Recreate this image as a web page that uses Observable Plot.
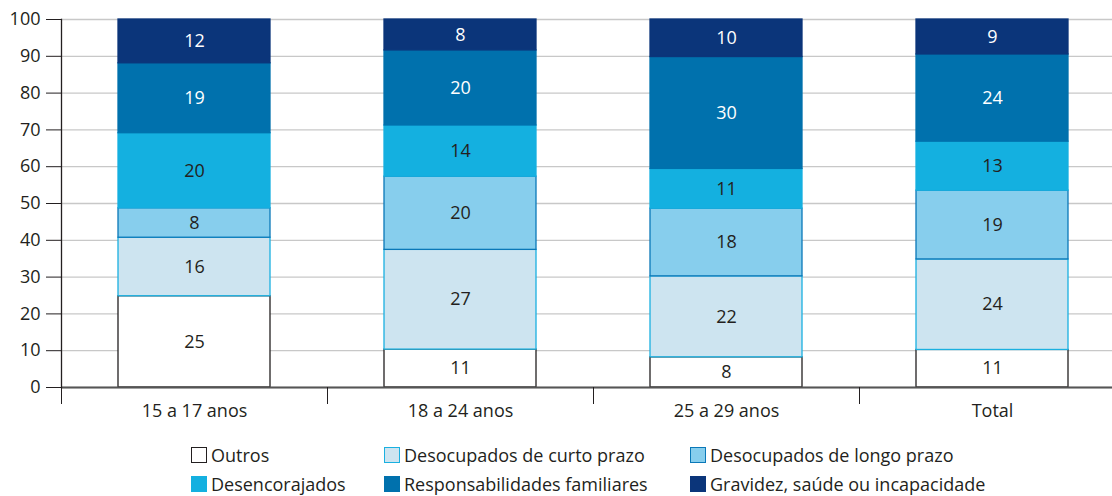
<!DOCTYPE html>
<html><head><meta charset="utf-8">
<script src="https://cdn.jsdelivr.net/npm/d3@7"></script>
<script src="https://cdn.jsdelivr.net/npm/@observablehq/plot@0.6"></script>
<style>
body{margin:0;background:#fff;font-family:"Open Sans",sans-serif;color:#231f20}
#wrap{position:relative;width:1112px;height:496px;overflow:hidden}
#legend{position:absolute;left:191px;top:445px;display:grid;grid-template-columns:193px 306px auto;row-gap:9px;font-size:18px;line-height:20px}
.item{display:flex;align-items:center;gap:4px;height:20px;white-space:nowrap}
.sw{width:16px;height:16px;box-sizing:border-box;border:1.3px solid;flex:none}
</style></head>
<body><div id="wrap"><div id="chart"></div><div id="legend"></div></div>
<script>
const categories = ["15 a 17 anos","18 a 24 anos","25 a 29 anos","Total"];
const series = ["Outros","Desocupados de curto prazo","Desocupados de longo prazo","Desencorajados","Responsabilidades familiares","Gravidez, saúde ou incapacidade"];
const yTicks = [0,10,20,30,40,50,60,70,80,90,100];

// estimated segment sizes per series (order of categories)
const valOutros   = [24.8, 10.3,  8.2, 10.2];
const valCurto    = [15.9, 27.1, 22.0, 24.6];
const valLongo    = [ 8.0, 19.9, 18.4, 18.7];
const valDesenc   = [20.4, 13.9, 10.8, 13.3];
const valResp     = [19.0, 20.4, 30.4, 23.7];
const valGravidez = [11.9,  8.4, 10.2,  9.5];

// printed labels
const lblOutros   = [25, 11,  8, 11];
const lblCurto    = [16, 27, 22, 24];
const lblLongo    = [ 8, 20, 18, 19];
const lblDesenc   = [20, 14, 11, 13];
const lblResp     = [19, 20, 30, 24];
const lblGravidez = [12,  8, 10,  9];

const fills   = ["#ffffff","#cde4f0","#87ceed","#14b0e0","#0071ad","#0b357a"];
const strokes = ["#231f20","#1ab0e0","#0a78b8","#14b0e0","#0071ad","#0b357a"];
const textColors = ["#231f20","#231f20","#231f20","#231f20","#ffffff","#ffffff"];

const values = [valOutros, valCurto, valLongo, valDesenc, valResp, valGravidez];
const labels = [lblOutros, lblCurto, lblLongo, lblDesenc, lblResp, lblGravidez];

const rows = series.flatMap((s, i) => categories.map((c, j) => ({
  category: c, series: s, value: values[i][j], label: labels[i][j],
  stroke: strokes[i], textColor: textColors[i]
})));

const chart = Plot.plot({
  width: 1112, height: 430,
  marginTop: 19, marginBottom: 43, marginLeft: 61, marginRight: 0,
  style: {fontFamily: "Open Sans, sans-serif", fontSize: "18px", color: "#231f20", background: "#fff"},
  x: {domain: categories, range: [61, 1125], paddingInner: 0.4286, paddingOuter: 0.2143, label: null},
  y: {domain: [0, 100], label: null},
  color: {domain: series, range: fills},
  marks: [
    Plot.gridY(yTicks, {stroke: "#c8c8c8", strokeOpacity: 1, strokeWidth: 1.3}),
    Plot.barY(rows, {x: "category", y: "value", z: "series", fill: "series", stroke: "stroke", strokeWidth: 1.3}),
    Plot.text(rows, Plot.stackY({x: "category", y: "value", z: "series", text: "label", fill: "textColor", fontSize: 18})),
    Plot.ruleY([0], {stroke: "#555", strokeWidth: 1.8}),
    Plot.axisY(yTicks, {tickSize: 15, tickPadding: 6, stroke: "#231f20", label: null, fontSize: 18}),
    Plot.frame({anchor: "left", stroke: "#231f20", strokeWidth: 1.3}),
    Plot.axisX({tickSize: 17, text: null, dx: -133, stroke: "#231f20", label: null}),
    Plot.axisX({tickSize: 0, tickPadding: 17, label: null, fontSize: 18})
  ]
});
document.getElementById("chart").appendChild(chart);

const legend = document.getElementById("legend");
series.forEach((s, i) => {
  const item = document.createElement("div");
  item.className = "item";
  const sw = document.createElement("span");
  sw.className = "sw";
  sw.style.background = fills[i];
  sw.style.borderColor = strokes[i];
  const t = document.createElement("span");
  t.textContent = s;
  item.appendChild(sw); item.appendChild(t);
  legend.appendChild(item);
});
</script></body></html>
